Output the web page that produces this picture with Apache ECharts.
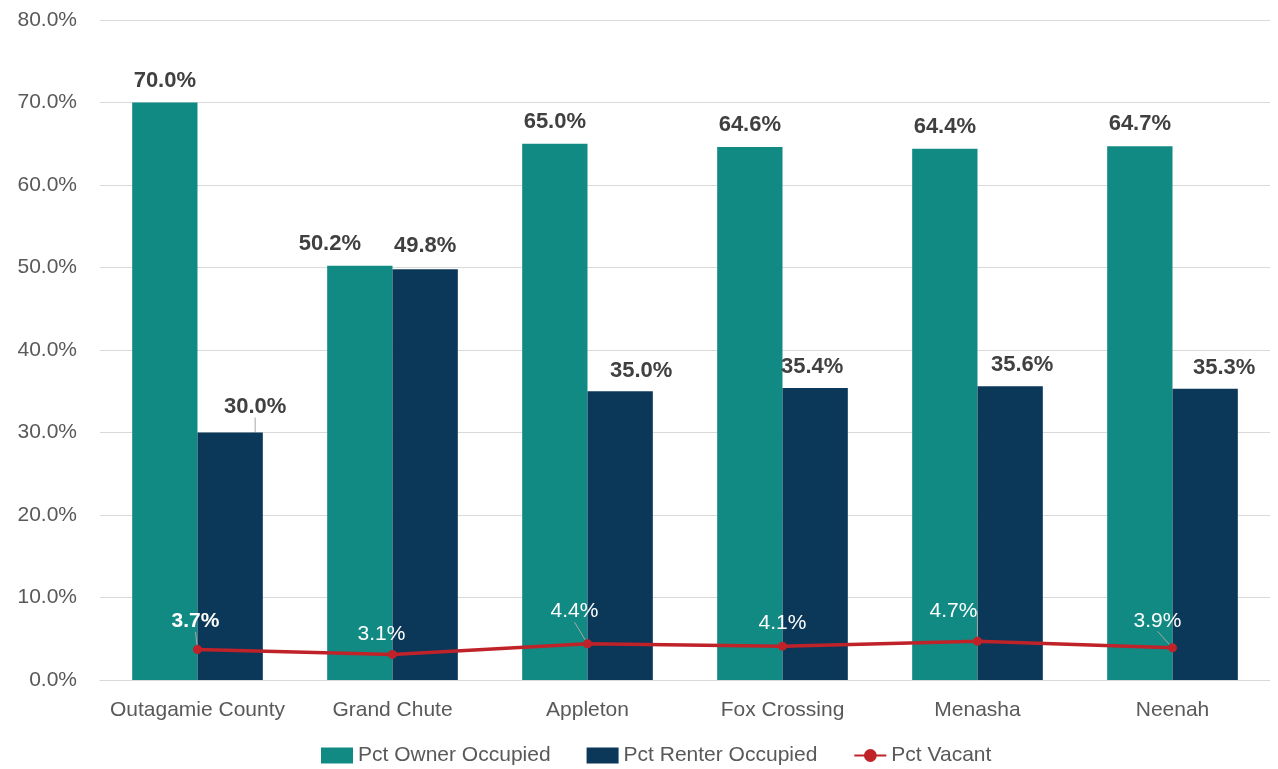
<!DOCTYPE html>
<html>
<head>
<meta charset="utf-8">
<script src="https://cdn.jsdelivr.net/npm/echarts@6/dist/echarts.min.js"></script>
<style>html,body{margin:0;padding:0;background:#fff}#c{width:1278px;height:769px}</style>
</head>
<body>
<div id="c"></div>
<script>
var categories = ['Outagamie County', 'Grand Chute', 'Appleton', 'Fox Crossing', 'Menasha', 'Neenah'];
var ownerPct = [70.0, 50.2, 65.0, 64.6, 64.4, 64.7];
var renterPct = [30.0, 49.8, 35.0, 35.4, 35.6, 35.3];
var vacantPct = [3.7, 3.1, 4.4, 4.1, 4.7, 3.9];
var yTicks = [0, 10, 20, 30, 40, 50, 60, 70, 80];

// label nudges (layout only)
var ownerDx = [0, -30, 0, 0, 0, 0], ownerDy = [0, 0, 0, 0, 0, 0];
var renterDx = [25, 0, 21, -3, 12, 19], renterDy = [-4, -1, 2, 1, 1, 1];
var renterLine = [true, false, false, false, false, false];
var vacantDx = [-2, -11, -13, 0, -24, -15], vacantDy = [-8, 0, -12, -3, -10, -7];
var vacantLine = [true, false, true, false, true, true];

var FONT = '"Liberation Sans", Arial, sans-serif';
var fmt = function (p) { return p.value.toFixed(1) + '%'; };

var chart = echarts.init(document.getElementById('c'), null, {renderer: 'canvas'});
chart.setOption({
  animation: false,
  backgroundColor: '#ffffff',
  textStyle: {fontFamily: FONT},
  grid: {left: 100, right: 8, top: 20, bottom: 89},
  legend: {
    top: 740, left: 316,
    itemWidth: 32, itemHeight: 16, itemGap: 36,
    textStyle: {fontSize: 21, color: '#595959', fontFamily: FONT},
    data: [
      {name: 'Pct Owner Occupied', icon: 'rect'},
      {name: 'Pct Renter Occupied', icon: 'rect'},
      {name: 'Pct Vacant'}
    ]
  },
  xAxis: {
    type: 'category', data: categories,
    axisLine: {lineStyle: {color: '#d9d9d9', width: 1}},
    axisTick: {show: false},
    axisLabel: {interval: 0, fontSize: 21, color: '#595959', margin: 20, fontFamily: FONT}
  },
  yAxis: {
    type: 'value', min: yTicks[0], max: yTicks[yTicks.length - 1], interval: 10,
    axisLine: {show: false}, axisTick: {show: false},
    splitLine: {lineStyle: {color: '#d9d9d9', width: 1}},
    axisLabel: {fontSize: 21, color: '#595959', margin: 23, fontFamily: FONT,
      formatter: function (v) { return v.toFixed(1) + '%'; }}
  },
  series: [
    {
      name: 'Pct Owner Occupied', type: 'bar', data: ownerPct,
      barGap: '0%', barCategoryGap: '33%',
      itemStyle: {color: '#128A84'},
      label: {show: true, position: 'top', distance: 11, formatter: fmt,
        fontSize: 22, fontWeight: 'bold', color: '#404040', fontFamily: FONT},
      labelLayout: function (p) { return {dx: ownerDx[p.dataIndex], dy: ownerDy[p.dataIndex]}; }
    },
    {
      name: 'Pct Renter Occupied', type: 'bar',
      data: renterPct.map(function (v, i) {
        return {value: v, labelLine: {show: renterLine[i]}};
      }),
      itemStyle: {color: '#0B3858'},
      label: {show: true, position: 'top', distance: 11, formatter: fmt,
        fontSize: 22, fontWeight: 'bold', color: '#404040', fontFamily: FONT},
      labelLine: {show: true, lineStyle: {color: '#a6a6a6', width: 1}},
      labelLayout: function (p) { return {dx: renterDx[p.dataIndex], dy: renterDy[p.dataIndex]}; }
    },
    {
      name: 'Pct Vacant', type: 'line',
      data: vacantPct.map(function (v, i) {
        return {value: v, labelLine: {show: vacantLine[i]},
          label: {fontWeight: i === 0 ? 'bold' : 'normal'}};
      }),
      z: 5,
      symbol: 'circle', symbolSize: 9,
      itemStyle: {color: '#C0222A'},
      lineStyle: {color: '#C0222A', width: 3.5},
      label: {show: true, position: 'top', distance: 5, formatter: fmt,
        fontSize: 21, color: '#ffffff', fontFamily: FONT},
      labelLine: {show: true, lineStyle: {color: '#a6a6a6', width: 1}},
      labelLayout: function (p) { return {dx: vacantDx[p.dataIndex], dy: vacantDy[p.dataIndex]}; }
    }
  ]
});
</script>
</body>
</html>
